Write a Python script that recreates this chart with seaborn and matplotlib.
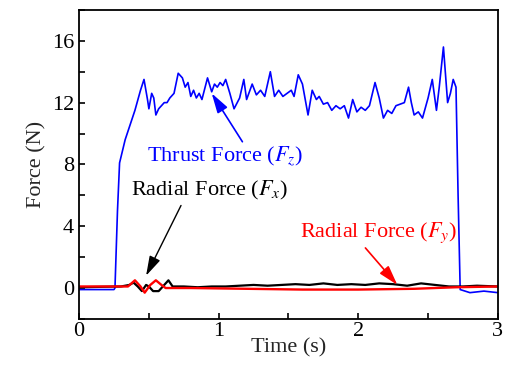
import numpy as np
import pandas as pd
import seaborn as sns
import matplotlib.pyplot as plt
from matplotlib.ticker import MultipleLocator

# --- Data ---
thrust_t = [0.00, 0.25, 0.257, 0.275, 0.29, 0.33, 0.40, 0.44, 0.465, 0.49, 0.50, 0.52,
            0.535, 0.55, 0.57, 0.59, 0.61, 0.63, 0.65, 0.68, 0.71, 0.74, 0.76, 0.78,
            0.80, 0.82, 0.84, 0.86, 0.88, 0.92, 0.95, 0.97, 0.99, 1.01, 1.03, 1.05,
            1.08, 1.11, 1.15, 1.18, 1.20, 1.24, 1.27, 1.30, 1.33, 1.37, 1.40, 1.43,
            1.46, 1.49, 1.52, 1.54, 1.57, 1.60, 1.64, 1.67, 1.70, 1.72, 1.75, 1.78,
            1.81, 1.84, 1.87, 1.90, 1.93, 1.96, 1.99, 2.02, 2.05, 2.08, 2.12, 2.15,
            2.18, 2.21, 2.24, 2.27, 2.30, 2.33, 2.36, 2.38, 2.40, 2.43, 2.46, 2.50,
            2.53, 2.56, 2.58, 2.61, 2.64, 2.66, 2.68, 2.70, 2.715, 2.73, 2.80, 2.90, 3.00]
thrust_f = [-0.1, -0.1, 0.0, 5.0, 8.1, 9.6, 11.5, 12.8, 13.5, 12.2, 11.6, 12.6,
            12.3, 11.2, 11.6, 11.8, 12.0, 12.0, 12.3, 12.6, 13.9, 13.6, 13.0, 13.3,
            12.4, 12.8, 12.3, 12.6, 12.2, 13.6, 12.7, 13.2, 13.0, 13.3, 13.1, 13.5,
            12.6, 11.6, 12.3, 13.5, 12.2, 13.2, 12.5, 12.8, 12.4, 14.0, 12.4, 12.8,
            12.4, 12.6, 12.8, 12.4, 13.8, 13.2, 11.2, 12.8, 12.2, 12.4, 11.9, 12.0,
            11.5, 11.8, 11.6, 11.8, 11.0, 12.2, 11.4, 11.7, 11.5, 11.8, 13.3, 12.3,
            11.0, 11.5, 11.3, 11.8, 11.9, 12.0, 13.0, 12.0, 11.2, 11.4, 11.0, 12.3,
            13.5, 11.5, 13.0, 15.6, 12.0, 12.6, 13.5, 13.0, 6.0, -0.1, -0.3, -0.2, -0.3]

radial_x_t = [0.00, 0.30, 0.36, 0.39, 0.42, 0.45, 0.48, 0.50, 0.53, 0.57, 0.60, 0.64,
              0.67, 0.75, 0.85, 0.95, 1.05, 1.15, 1.25, 1.35, 1.45, 1.55, 1.65, 1.75,
              1.85, 1.95, 2.05, 2.15, 2.25, 2.35, 2.45, 2.55, 2.65, 2.75, 2.85, 3.00]
radial_x_f = [0.05, 0.10, 0.20, 0.35, 0.10, -0.20, 0.20, 0.10, -0.20, -0.20, 0.10, 0.50,
              0.10, 0.10, 0.05, 0.10, 0.10, 0.15, 0.20, 0.15, 0.20, 0.25, 0.20, 0.30,
              0.20, 0.25, 0.20, 0.30, 0.25, 0.15, 0.30, 0.20, 0.10, 0.10, 0.15, 0.10]

radial_y_t = [0.00, 0.35, 0.40, 0.44, 0.47, 0.51, 0.55, 0.59, 0.62, 0.80, 1.20, 1.60,
              2.00, 2.40, 2.70, 3.00]
radial_y_f = [0.10, 0.10, 0.50, 0.10, -0.30, 0.20, 0.50, 0.20, 0.00, 0.00, -0.05, -0.10,
              -0.10, -0.05, 0.05, 0.10]

# --- Plot ---
sns.set_style("ticks")
plt.rcParams['font.family'] = ['Liberation Serif', 'DejaVu Serif']
plt.rcParams['mathtext.fontset'] = 'stix'

fig = plt.figure(figsize=(5.07, 3.67), dpi=100)
ax = fig.add_axes([0.156, 0.131, 0.826, 0.842])

sns.lineplot(x=thrust_t, y=thrust_f, color="blue", lw=1.2, estimator=None, ax=ax)
sns.lineplot(x=radial_x_t, y=radial_x_f, color="black", lw=1.6, estimator=None, ax=ax)
sns.lineplot(x=radial_y_t, y=radial_y_f, color="red", lw=1.7, estimator=None, ax=ax)

ax.set_xlim(0, 3)
ax.set_ylim(-2, 18)
ax.xaxis.set_major_locator(MultipleLocator(1))
ax.xaxis.set_minor_locator(MultipleLocator(0.5))
ax.yaxis.set_major_locator(MultipleLocator(4))
ax.yaxis.set_minor_locator(MultipleLocator(2))
ax.tick_params(which="both", direction="in", length=4, width=1.2, labelsize=16,
               color="black", labelcolor="black")
ax.tick_params(axis="x", pad=2)
for sp in ax.spines.values():
    sp.set_visible(True)
    sp.set_linewidth(1.3)
    sp.set_color("black")

ax.set_xlabel("Time (s)", fontsize=16, labelpad=-2)
ax.set_ylabel("Force (N)", fontsize=16, labelpad=4)

head = "-|>,head_length=0.75,head_width=0.22"
ax.annotate("Thrust Force ($F_z$)", xy=(0.95, 12.6), xytext=(0.49, 8.5),
            color="blue", fontsize=16, va="center", ha="left",
            arrowprops=dict(arrowstyle=head, color="blue", lw=1.2, mutation_scale=16,
                            shrinkA=0, shrinkB=0, relpos=(0.62, 1.0)))
ax.annotate("Radial Force ($F_x$)", xy=(0.48, 0.8), xytext=(0.37, 6.3),
            color="black", fontsize=16, va="center", ha="left",
            arrowprops=dict(arrowstyle=head, color="black", lw=1.0, mutation_scale=16,
                            shrinkA=0, shrinkB=0, relpos=(0.33, 0.0)))
ax.annotate("Radial Force ($F_y$)", xy=(2.28, 0.2), xytext=(1.58, 3.6),
            color="red", fontsize=16, va="center", ha="left",
            arrowprops=dict(arrowstyle=head, color="red", lw=1.2, mutation_scale=16,
                            shrinkA=0, shrinkB=0, relpos=(0.4, 0.0)))

fig.savefig("out.png", dpi=100)
